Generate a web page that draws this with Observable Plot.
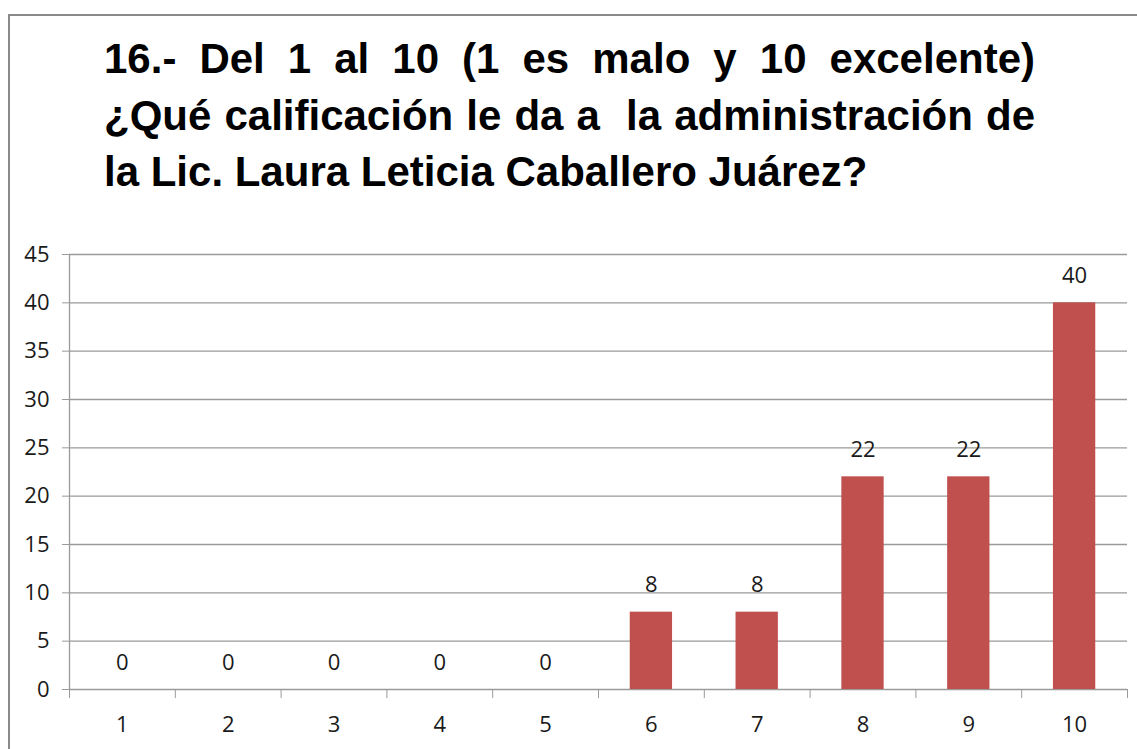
<!DOCTYPE html>
<html>
<head>
<meta charset="utf-8">
<script src="https://cdn.jsdelivr.net/npm/d3@7"></script>
<script src="https://cdn.jsdelivr.net/npm/@observablehq/plot@0.6"></script>
<style>
  html, body { margin: 0; padding: 0; background: #fff; overflow: hidden; width: 1137px; height: 749px; }
  #frame { position: absolute; left: 8px; top: 14px; width: 1140px; height: 800px; border: 2px solid #8a8a8a; box-sizing: border-box; }
  #title { position: absolute; left: 104px; top: 31px; width: 931px; font-family: "Liberation Sans", Arial, sans-serif; font-weight: bold; font-size: 42px; line-height: 56.5px; color: #000; }
  #title .j { text-align: justify; text-align-last: justify; }
  #chart { position: absolute; left: 0; top: 230px; }
</style>
</head>
<body>
<div id="frame"></div>
<div id="title">
  <div class="j">16.- Del 1 al 10 (1 es malo y 10 excelente)</div>
  <div class="j">¿Qué calificación le da a&nbsp; la administración de</div>
  <div>la Lic. Laura Leticia Caballero Juárez?</div>
</div>
<div id="chart"></div>
<script>
const categories = [1, 2, 3, 4, 5, 6, 7, 8, 9, 10];
const values = [0, 0, 0, 0, 0, 8, 8, 22, 22, 40];
const yTicks = [0, 5, 10, 15, 20, 25, 30, 35, 40, 45];

const data = categories.map((c, i) => ({cat: c, value: values[i]}));
const boundaries = [0, ...categories].map(c => c + 0.5);

const font = "'Open Sans', 'DejaVu Sans', sans-serif";
const grid = "#9a9a9a";
const fs = 22;

const plot = Plot.plot({
  width: 1137,
  height: 519,
  marginLeft: 69,
  marginRight: 10,
  marginTop: 24,
  marginBottom: 60,
  style: {fontFamily: font, fontSize: fs + "px", color: "#1a1a1a", background: "transparent"},
  x: {type: "linear", domain: [0.5, 10.5]},
  y: {domain: [0, 45]},
  marks: [
    Plot.ruleY(yTicks, {y: d => d, stroke: grid, strokeWidth: 1.3}),
    Plot.axisY({ticks: yTicks, tickSize: 7, tickPadding: 13, stroke: grid, label: null, fontSize: fs}),
    Plot.ruleX([0.5], {stroke: grid, strokeWidth: 1.3}),
    Plot.axisX({ticks: boundaries, tickSize: 9, tickFormat: () => "", stroke: grid, label: null}),
    Plot.axisX({ticks: categories, tickSize: 0, tickPadding: 27, tickFormat: d => String(d), label: null, fontSize: fs}),
    Plot.rectY(data, {x1: d => d.cat - 0.2, x2: d => d.cat + 0.2, y: "value", fill: "#C0504D"}),
    Plot.text(data, {x: "cat", y: "value", text: d => String(d.value), dy: -27, fontSize: fs, fill: "#1a1a1a"})
  ]
});
document.getElementById("chart").appendChild(plot);
</script>
</body>
</html>
